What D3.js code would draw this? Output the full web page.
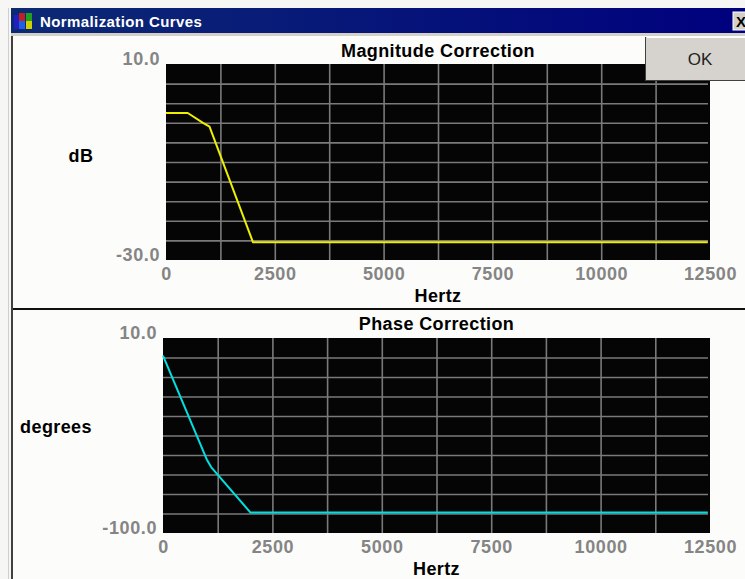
<!DOCTYPE html>
<html>
<head>
<meta charset="utf-8">
<script src="https://cdn.jsdelivr.net/npm/d3@7"></script>
<style>
  html, body { margin: 0; padding: 0; background: #f6f6f4; }
  svg { display: block; }
  text { font-family: "Liberation Sans", Arial, sans-serif; }
</style>
</head>
<body>
<svg id="chart" width="745" height="579"></svg>
<script>
// ---- data ----
const windowTitle = "Normalization Curves";
const xTickValues = [0, 2500, 5000, 7500, 10000, 12500];
const xGridStep = 1250;
const xLabel = "Hertz";

const magTitle = "Magnitude Correction";
const magYLabel = "dB";
const magDomain = [-30, 10];
const magGridStep = 4;
const magFreq = [0, 500, 850, 1000, 2000, 12450];
const magDb   = [0, 0, -2, -2.8, -26.4, -26.4];

const phaseTitle = "Phase Correction";
const phaseYLabel = "degrees";
const phaseDomain = [-100, 10];
const phaseGridStep = 11;
const phaseFreq = [0, 1000, 1100, 2000, 12450];
const phaseDeg  = [0, -58.5, -62.8, -88.5, -88.5];

const svg = d3.select("#chart");
const fmtY = v => d3.format(".1f")(v).replace("\u2212", "-");

// ---- window chrome ----
const defs = svg.append("defs");
const grad = defs.append("linearGradient").attr("id", "tb").attr("x1", 0).attr("x2", 1);
grad.append("stop").attr("offset", "0%").attr("stop-color", "#0c2a74");
grad.append("stop").attr("offset", "100%").attr("stop-color", "#00007e");

svg.append("rect").attr("x", 0).attr("y", 0).attr("width", 745).attr("height", 579).attr("fill", "#f6f6f4");
svg.append("line").attr("x1", 8.5).attr("x2", 8.5).attr("y1", 8).attr("y2", 579).attr("stroke", "#cfcfcf");
svg.append("rect").attr("x", 11).attr("y", 8).attr("width", 734).attr("height", 25).attr("fill", "url(#tb)");
svg.append("rect").attr("x", 11).attr("y", 33).attr("width", 734).attr("height", 3).attr("fill", "#d4d0c8");
svg.append("rect").attr("x", 13).attr("y", 36).attr("width", 732).attr("height", 543).attr("fill", "#fcfcfa");
svg.append("rect").attr("x", 11).attr("y", 36).attr("width", 2).attr("height", 543).attr("fill", "#404040");

// icon
const icon = svg.append("g").attr("transform", "translate(14,13)");
[["#2020c0",0,2,6,14],["#c02020",5,0,6,8],["#20a020",12,0,6,8],["#d0d000",12,8,6,8],["#2060e0",5,8,6,8]]
  .forEach(d => icon.append("rect").attr("x", d[1]).attr("y", d[2]).attr("width", d[3]).attr("height", d[4]).attr("fill", d[0]));

svg.append("text").attr("x", 40).attr("y", 27).attr("fill", "#ffffff")
  .attr("font-weight", "bold").attr("font-size", 15).attr("letter-spacing", 0.4).text(windowTitle);

// close button
svg.append("rect").attr("x", 733).attr("y", 12).attr("width", 14).attr("height", 18).attr("fill", "#d4d0c8").attr("stroke", "#ffffff");
svg.append("text").attr("x", 736).attr("y", 27).attr("fill", "#000").attr("font-weight", "bold").attr("font-size", 15).text("X");

// ---- chart function ----
function drawChart(cfg) {
  const g = svg.append("g");
  const x = d3.scaleLinear().domain([0, 12500]).range([cfg.left, cfg.right]);
  const y = d3.scaleLinear().domain(cfg.domain).range([cfg.bottom, cfg.top]);

  g.append("rect").attr("x", cfg.left).attr("y", cfg.top)
    .attr("width", cfg.right - cfg.left).attr("height", cfg.bottom - cfg.top).attr("fill", "#050506");

  // grid
  const xGrid = d3.range(xGridStep, 12500, xGridStep);
  const yGrid = d3.range(cfg.domain[0] + cfg.gridStep, cfg.domain[1] - 0.001, cfg.gridStep);
  const gx = g.append("g").attr("transform", `translate(0,${cfg.bottom})`)
    .call(d3.axisBottom(x).tickValues(xGrid).tickSize(-(cfg.bottom - cfg.top)).tickFormat(""));
  gx.select(".domain").remove();
  gx.selectAll("line").attr("stroke", "#7a7a7a").attr("stroke-width", 1.6);
  const gy = g.append("g").attr("transform", `translate(${cfg.left},0)`)
    .call(d3.axisLeft(y).tickValues(yGrid).tickSize(-(cfg.right - cfg.left - 2)).tickFormat(""));
  gy.select(".domain").remove();
  gy.selectAll("line").attr("stroke", "#7a7a7a").attr("stroke-width", 1.6);

  // curve
  const pts = cfg.xs.map((f, i) => [f, cfg.ys[i]]);
  g.append("path").datum(pts)
    .attr("d", d3.line().x(d => x(d[0])).y(d => y(d[1])))
    .attr("fill", "none").attr("stroke", cfg.color).attr("stroke-width", 2)
    .attr("stroke-linejoin", "round");

  // x tick labels
  const ax = g.append("g").attr("transform", `translate(0,${cfg.bottom})`)
    .call(d3.axisBottom(x).tickValues(xTickValues).tickSize(0).tickFormat(d3.format("d")));
  ax.select(".domain").remove();
  ax.selectAll("text").attr("y", 20).attr("dy", 0)
    .attr("fill", "#858585").attr("font-size", 18).attr("font-weight", "bold")
    .attr("font-family", "Liberation Sans, Arial, sans-serif").attr("letter-spacing", 0.6);

  // y tick labels (min and max only)
  const ay = g.append("g").attr("transform", `translate(${cfg.left},0)`)
    .call(d3.axisLeft(y).tickValues(cfg.domain).tickSize(0).tickFormat(fmtY));
  ay.select(".domain").remove();
  ay.selectAll("text").attr("x", cfg.labelGap).attr("dy", 0)
    .attr("fill", "#858585").attr("font-size", 18).attr("font-weight", "bold")
    .attr("font-family", "Liberation Sans, Arial, sans-serif").attr("letter-spacing", 0.6);

  const cx = (cfg.left + cfg.right) / 2;
  g.append("text").attr("x", cx).attr("y", cfg.titleY).attr("text-anchor", "middle")
    .attr("font-weight", "bold").attr("font-size", 18).attr("letter-spacing", 0.4).attr("fill", "#000").text(cfg.title);
  g.append("text").attr("x", cx).attr("y", cfg.bottom + 42).attr("text-anchor", "middle")
    .attr("font-weight", "bold").attr("font-size", 18).attr("letter-spacing", 0.4).attr("fill", "#000").text(xLabel);
  g.append("text").attr("x", cfg.yLabelX).attr("y", cfg.yLabelY).attr("text-anchor", "middle")
    .attr("font-weight", "bold").attr("font-size", 18).attr("letter-spacing", 0.4).attr("fill", "#000").text(cfg.yLabel);
}

drawChart({
  left: 166, right: 710, top: 64, bottom: 260, domain: magDomain, gridStep: magGridStep,
  xs: magFreq, ys: magDb, color: "#eeee00", title: magTitle, titleY: 57,
  yLabel: magYLabel, yLabelX: 81, yLabelY: 162, labelGap: -6
});

// divider
svg.append("rect").attr("x", 13).attr("y", 308).attr("width", 732).attr("height", 2).attr("fill", "#101010");

drawChart({
  left: 163, right: 710, top: 338, bottom: 533, domain: phaseDomain, gridStep: phaseGridStep,
  xs: phaseFreq, ys: phaseDeg, color: "#00e0e0", title: phaseTitle, titleY: 330,
  yLabel: phaseYLabel, yLabelX: 56, yLabelY: 433, labelGap: -6
});

// OK button
svg.append("rect").attr("x", 646).attr("y", 37).attr("width", 99).attr("height", 44).attr("fill", "#d6d3ce");
svg.append("line").attr("x1", 645.5).attr("x2", 645.5).attr("y1", 37).attr("y2", 81).attr("stroke", "#404040");
svg.append("line").attr("x1", 645).attr("x2", 745).attr("y1", 80.5).attr("y2", 80.5).attr("stroke", "#404040");
svg.append("line").attr("x1", 647).attr("x2", 745).attr("y1", 37.5).attr("y2", 37.5).attr("stroke", "#ffffff");
svg.append("text").attr("x", 700).attr("y", 65).attr("text-anchor", "middle")
  .attr("font-size", 17).attr("fill", "#222").text("OK");
</script>
</body>
</html>
